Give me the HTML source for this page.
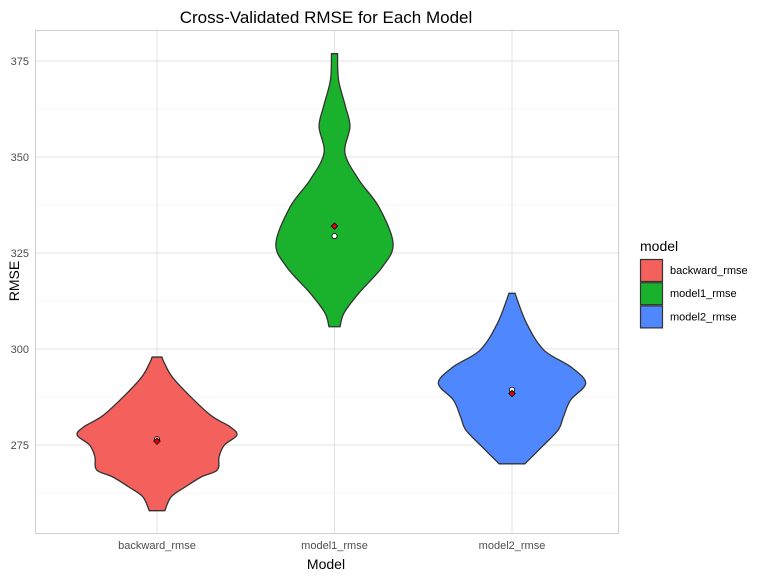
<!DOCTYPE html>
<html><head><meta charset="utf-8"><style>
body{margin:0;background:#fff;font-family:"Liberation Sans",Arial,sans-serif}
svg{display:block}
</style></head><body>
<svg id="chart" width="768" height="576">
<rect width="768" height="576" fill="#fff"/>
<g id="grid"></g>
<g id="violins"></g>
<g id="points"></g>
<rect x="35.5" y="30.5" width="583" height="503" fill="none" stroke="#cfcfcf"/>
<g id="axes"></g>
<text x="326" y="23" font-size="17" text-anchor="middle" fill="#000">Cross-Validated RMSE for Each Model</text>
<text x="326" y="569" font-size="14" text-anchor="middle">Model</text>
<text transform="translate(19,281) rotate(-90)" font-size="14" text-anchor="middle">RMSE</text>
<g id="legend"></g>
</svg>
<script>
const categories = ["backward_rmse","model1_rmse","model2_rmse"];
const colors = ["#F4615D","#1AB22C","#4F87FF"];
const yTicks = [275,300,325,350,375];
// violin outlines: rmse values and half-width as fraction of category spacing
const v0vals = [297.9,296.5,291.9,283.2,279.8,277.6,275,272,268.5,266.7,264.1,261.5,257.9];
const v0wid  = [0.028,0.04,0.10,0.29,0.41,0.45,0.38,0.35,0.34,0.25,0.16,0.08,0.044];
const v1vals = [376.9,370,363.1,357.9,351,344,337,327.5,321.4,314.6,309.4,305.8];
const v1wid  = [0.017,0.023,0.062,0.087,0.059,0.138,0.25,0.33,0.27,0.138,0.054,0.031];
const v2vals = [314.5,306.7,299.7,295.4,291.1,286.7,282.4,278.9,274.6,270.1];
const v2wid  = [0.017,0.082,0.18,0.33,0.415,0.33,0.29,0.26,0.17,0.073];
const meanVals = [276.0,332.0,288.4];
const medianVals = [276.5,329.4,289.4];

const NS="http://www.w3.org/2000/svg";
const X0=157,DX=177.5;
function xs(i){return X0+i*DX;}
function ys(v){return 445-(v-275)*3.84;}
function mk(tag,attrs,parent){const e=document.createElementNS(NS,tag);for(const k in attrs)e.setAttribute(k,attrs[k]);parent.appendChild(e);return e;}
const grid=document.getElementById('grid');
for(let t=262.5;t<=375;t+=25){
  const l=mk('line',{x1:35,x2:618,y1:ys(t),y2:ys(t),stroke:'#f0f0f0','stroke-width':0.6},grid);
  
  
}
yTicks.forEach(t=>{
  const l=mk('line',{x1:35,x2:618,y1:ys(t),y2:ys(t),stroke:'#e3e3e3','stroke-width':1},grid);
  
  
});
categories.forEach((c,i)=>{
  const l=mk('line',{x1:xs(i),x2:xs(i),y1:30,y2:533,stroke:'#e3e3e3','stroke-width':1},grid);
  
  
});
const axes=document.getElementById('axes');
yTicks.forEach(t=>{
  const tx=mk('text',{x:29,y:ys(t)+4,'font-size':11,'text-anchor':'end',fill:'#4d4d4d'},axes);
  tx.textContent=t;
  
  
});
categories.forEach((c,i)=>{
  const tx=mk('text',{x:xs(i),y:549,'font-size':11,'text-anchor':'middle',fill:'#4d4d4d'},axes);
  tx.textContent=c;
  
  
});
function spline(pts){
  let d=`M${pts[0][0]},${pts[0][1]}`;
  for(let i=0;i<pts.length-1;i++){
    const p0=pts[Math.max(i-1,0)],p1=pts[i],p2=pts[i+1],p3=pts[Math.min(i+2,pts.length-1)];
    const c1=[p1[0]+(p2[0]-p0[0])/6,p1[1]+(p2[1]-p0[1])/6];
    const c2=[p2[0]-(p3[0]-p1[0])/6,p2[1]-(p3[1]-p1[1])/6];
    d+=`C${c1[0]},${c1[1]} ${c2[0]},${c2[1]} ${p2[0]},${p2[1]}`;
  }
  return d;
}
const vg=document.getElementById('violins');
[[v0vals,v0wid],[v1vals,v1wid],[v2vals,v2wid]].forEach(([vals,wid],i)=>{
  const cx=xs(i);
  const right=vals.map((v,k)=>[cx+wid[k]*DX,ys(v)]);
  const left=vals.map((v,k)=>[cx-wid[k]*DX,ys(v)]).reverse();
  const d=spline(right)+' L'+left[0][0]+','+left[0][1]+spline(left).replace(/^M[^C]*/,'')+'Z';
  const p=mk('path',{d:d,fill:colors[i],stroke:'#333','stroke-width':1.3},vg);
  
  
});
const pg=document.getElementById('points');
categories.forEach((c,i)=>{
  const cx=xs(i);
  const m=mk('circle',{cx:cx,cy:ys(medianVals[i]),r:2.6,fill:'#fff',stroke:'#000','stroke-width':0.8},pg);
  
  
  const y=ys(meanVals[i]);
  const dm=mk('path',{d:`M${cx},${y-3.2}L${cx+3.2},${y}L${cx},${y+3.2}L${cx-3.2},${y}Z`,fill:'#e00',stroke:'#000','stroke-width':0.8},pg);
  
  
});
const lg=document.getElementById('legend');
const lt=mk('text',{x:640,y:251,'font-size':14},lg);
lt.textContent='model';


categories.forEach((c,i)=>{
  const y=259+i*23.2;
  const r=mk('rect',{x:640.5,y:y+0.5,width:22,height:22,fill:colors[i],stroke:'#333','stroke-width':1.2},lg);
  
  
  const t=mk('text',{x:670,y:y+15,'font-size':11,fill:'#000'},lg);
  t.textContent=c;
  
  
});
</script>
</body></html>
